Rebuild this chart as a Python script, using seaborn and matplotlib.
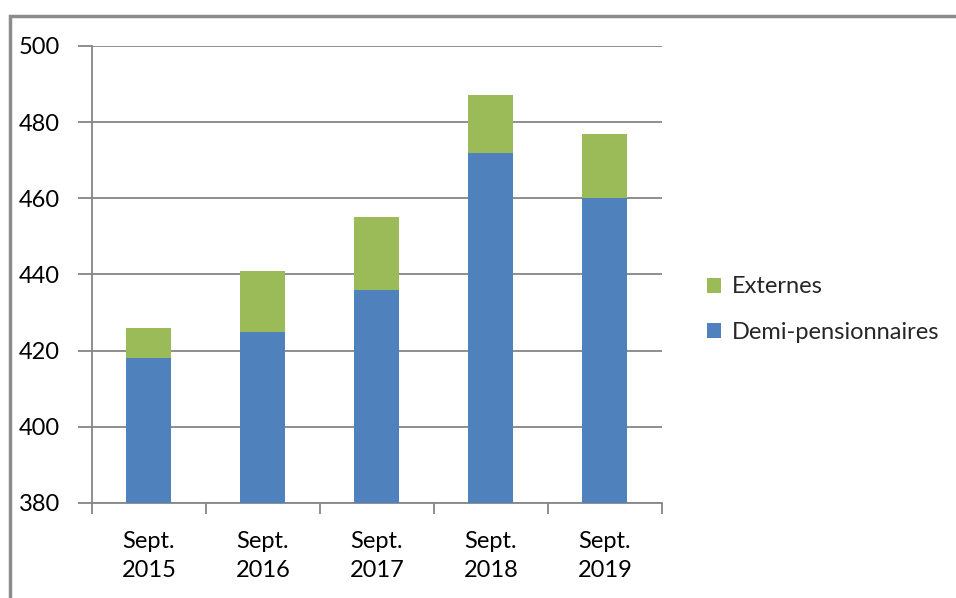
import matplotlib
matplotlib.use("Agg")
import matplotlib.pyplot as plt
import numpy as np
import pandas as pd
import seaborn as sns
from matplotlib.patches import Patch, Rectangle

# values
periods = ["Sept.\n2015", "Sept.\n2016", "Sept.\n2017", "Sept.\n2018", "Sept.\n2019"]
demi_pensionnaires = [418, 425, 436, 472, 460]
externes = [8, 16, 19, 15, 17]
y_ticks = [380, 400, 420, 440, 460, 480, 500]

BLUE = "#4F81BD"
GREEN = "#9BBB59"
GREY = "#868686"

sns.set_theme(style="white")
plt.rcParams["font.family"] = ["Lato", "DejaVu Sans"]

df = pd.DataFrame({
    "period": periods,
    "demi": demi_pensionnaires,
    "total": np.array(demi_pensionnaires) + np.array(externes),
})

fig = plt.figure(figsize=(9.56, 5.98), dpi=100)
ax = fig.add_axes([0.0962, 0.1589, 0.5962, 0.7642])

# stacked bars: totals in green, demi-pensionnaires drawn over them
sns.barplot(data=df, x="period", y="total", color=GREEN, width=0.395,
            saturation=1, linewidth=0, ax=ax, zorder=3)
sns.barplot(data=df, x="period", y="demi", color=BLUE, width=0.395,
            saturation=1, linewidth=0, ax=ax, zorder=3)

ax.set_ylim(380, 500)
ax.set_xlim(-0.5, len(periods) - 0.5)
ax.set_yticks(y_ticks)
ax.yaxis.grid(True, color=GREY, lw=1.3, zorder=0)
ax.set_axisbelow(True)
ax.set_xlabel("")
ax.set_ylabel("")

for side in ("top", "right"):
    ax.spines[side].set_visible(False)
for side in ("left", "bottom"):
    ax.spines[side].set_color(GREY)
    ax.spines[side].set_linewidth(1.3)

ax.tick_params(axis="y", direction="out", length=10, width=1.3, color=GREY,
               pad=13, labelsize=17, labelcolor="#000000", left=True)
ax.tick_params(axis="x", which="major", length=0, pad=20, labelsize=17,
               labelcolor="#000000")
ax.set_xticks(np.arange(-0.5, len(periods)), minor=True)
ax.tick_params(axis="x", which="minor", direction="out", length=8, width=1.3,
               color=GREY, bottom=True)
for lab in ax.get_xticklabels():
    lab.set_linespacing(1.5)

handles = [Patch(facecolor=GREEN, edgecolor="none", label="Externes"),
           Patch(facecolor=BLUE, edgecolor="none", label="Demi-pensionnaires")]
fig.legend(handles=handles, loc="center left", bbox_to_anchor=(0.717, 0.482),
           frameon=False, fontsize=17, handlelength=0.6, handleheight=0.6,
           handletextpad=0.45, labelspacing=1.05)

# outer chart frame (cut off by the image edge)
fig.add_artist(Rectangle((9.5 / 956, -0.2), 1.2, 0.2 + 1 - 15.5 / 598,
                         transform=fig.transFigure, fill=False,
                         edgecolor="#8C8C8C", lw=2.5, clip_on=False))

fig.savefig("out.png", dpi=100)
